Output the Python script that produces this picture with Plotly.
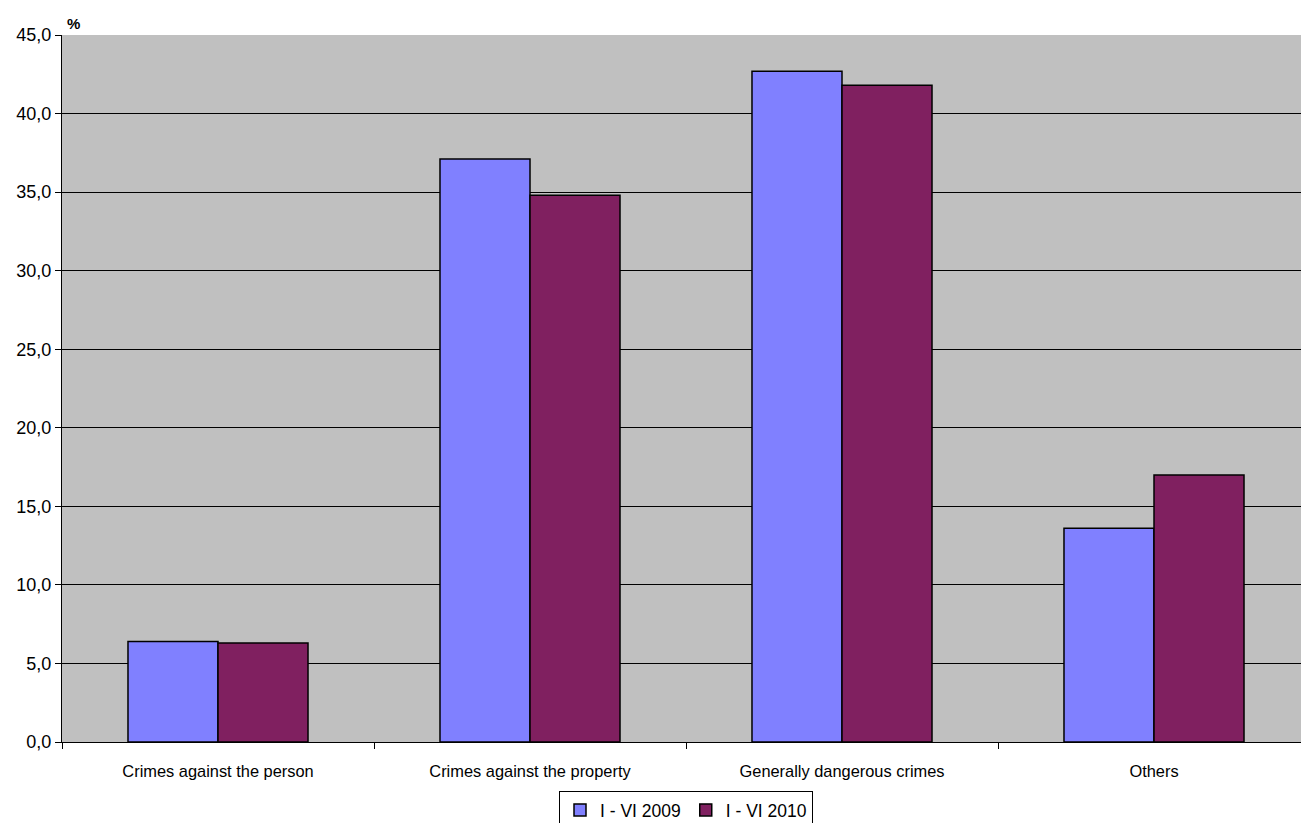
import plotly.graph_objects as go

categories = ["Crimes against the person", "Crimes against the property",
              "Generally dangerous crimes", "Others"]
series_2009 = [6.4, 37.1, 42.7, 13.6]
series_2010 = [6.3, 34.8, 41.8, 17.0]
names = ["I - VI 2009", "I - VI 2010"]
y_ticks = [0, 5, 10, 15, 20, 25, 30, 35, 40, 45]

fig = go.Figure()
fig.add_trace(go.Bar(x=categories, y=series_2009, name=names[0],
                     marker=dict(color="#8080FF", line=dict(color="black", width=1.5))))
fig.add_trace(go.Bar(x=categories, y=series_2010, name=names[1],
                     marker=dict(color="#802060", line=dict(color="black", width=1.5))))

W = 1310
fig.update_layout(
    width=W, height=823,
    margin=dict(l=62, r=0, t=35, b=81, autoexpand=False),
    paper_bgcolor="white", plot_bgcolor="#C0C0C0",
    font=dict(family="Liberation Sans, Arial, sans-serif", size=16, color="black"),
    barmode="group", bargap=0.423, bargroupgap=0,
    separators=",.",
    showlegend=True,
    legend=dict(orientation="h", x=(686 - 62) / (W - 62), xanchor="center", xref="paper",
                yref="container", y=(823 - 791) / 823, yanchor="top",
                bordercolor="black", borderwidth=1, font=dict(size=17.5),
                itemwidth=30, tracegroupgap=0, traceorder="normal"),
    annotations=[dict(text="<b>%</b>", xref="paper", yref="paper", x=0.0, y=1.0,
                      xanchor="left", yanchor="bottom", xshift=3, yshift=1,
                      showarrow=False, font=dict(size=15))],
)
fig.update_xaxes(showline=True, linecolor="black", linewidth=1, ticks="outside",
                 tickson="boundaries", ticklen=6, tickcolor="black", showgrid=False,
                 ticklabelstandoff=14, tickfont=dict(size=16.4))
fig.update_yaxes(range=[0, 45], tickvals=y_ticks, tickformat=".1f", showline=True,
                 linecolor="black", linewidth=1, ticks="outside", ticklen=6,
                 tickcolor="black", gridcolor="black", gridwidth=1, zeroline=False,
                 tickfont=dict(size=18))

fig.write_html("out.html", config={"displayModeBar": False},
               post_script="document.body.style.margin='0';document.body.style.overflow='hidden';")
